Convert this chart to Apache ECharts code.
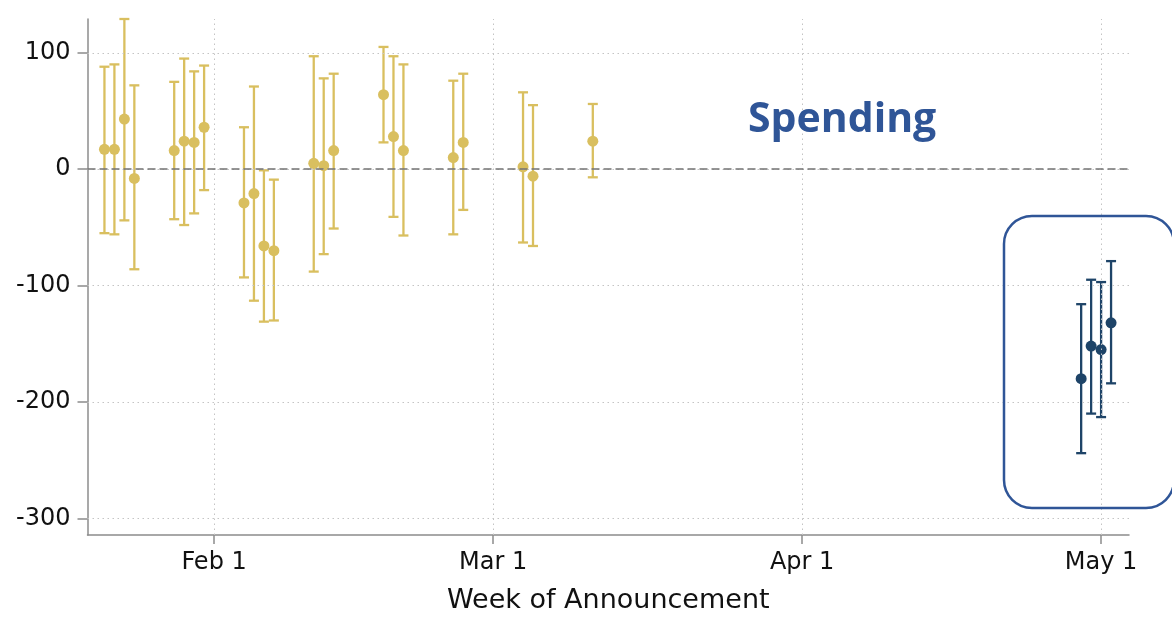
<!DOCTYPE html>
<html>
<head>
<meta charset="utf-8">
<script src="https://cdn.jsdelivr.net/npm/echarts@6/dist/echarts.min.js"></script>
<style>
  html, body { margin: 0; padding: 0; background: #ffffff; }
  #chart { width: 1172px; height: 619px; }
</style>
</head>
<body>
<div id="chart"></div>
<script>
// Weekly announcement effects on spending, with confidence intervals.
const earlyDates = ['2021-01-21', '2021-01-22', '2021-01-23', '2021-01-24',
                    '2021-01-28', '2021-01-29', '2021-01-30', '2021-01-31',
                    '2021-02-04', '2021-02-05', '2021-02-06', '2021-02-07',
                    '2021-02-11', '2021-02-12', '2021-02-13',
                    '2021-02-18', '2021-02-19', '2021-02-20',
                    '2021-02-25', '2021-02-26',
                    '2021-03-04', '2021-03-05',
                    '2021-03-11'];
const earlyEstimate = [17, 17, 43, -8, 16, 24, 23, 36, -29, -21, -66, -70, 5, 3, 16, 64, 28, 16, 10, 23, 2, -6, 24];
const earlyUpper    = [88, 90, 129, 72, 75, 95, 84, 89, 36, 71, -1, -9, 97, 78, 82, 105, 97, 90, 76, 82, 66, 55, 56];
const earlyLower    = [-55, -56, -44, -86, -43, -48, -38, -18, -93, -113, -131, -130, -88, -73, -51, 23, -41, -57, -56, -35, -63, -66, -7];

const mayDates    = ['2021-04-29', '2021-04-30', '2021-05-01', '2021-05-02'];
const mayEstimate = [-180, -152, -155, -132];
const mayUpper    = [-116, -95, -97, -79];
const mayLower    = [-244, -210, -213, -184];

const xTickDates  = ['2021-02-01', '2021-03-01', '2021-04-01', '2021-05-01'];
const xTickLabels = ['Feb 1', 'Mar 1', 'Apr 1', 'May 1'];
const yTicks      = [-300, -200, -100, 0, 100];

const xTitle = 'Week of Announcement';
const panelTitle = 'Spending';

// Day of year (Jan 1 = 0) used as the x coordinate.
function dayOf(iso) {
  const d = new Date(iso + 'T00:00:00Z');
  return Math.round((d - Date.UTC(d.getUTCFullYear(), 0, 1)) / 86400000);
}

const xTickDays = xTickDates.map(dayOf);

function points(dates, est) {
  return dates.map((d, i) => [dayOf(d), est[i]]);
}
function intervals(dates, lo, hi) {
  return dates.map((d, i) => [dayOf(d), lo[i], hi[i]]);
}

const YELLOW = '#d9bf5f';
const NAVY = '#1e4468';
const FONT = 'DejaVu Sans';

function errorBar(color) {
  return function (params, api) {
    const x = api.value(0);
    const pLo = api.coord([x, api.value(1)]);
    const pHi = api.coord([x, api.value(2)]);
    const hw = 5;
    const style = { stroke: color, lineWidth: 2.3 };
    return {
      type: 'group',
      children: [
        { type: 'line', shape: { x1: pLo[0], y1: pHi[1], x2: pLo[0], y2: pLo[1] }, style },
        { type: 'line', shape: { x1: pLo[0] - hw, y1: pHi[1], x2: pLo[0] + hw, y2: pHi[1] }, style },
        { type: 'line', shape: { x1: pLo[0] - hw, y1: pLo[1], x2: pLo[0] + hw, y2: pLo[1] }, style }
      ]
    };
  };
}

const chart = echarts.init(document.getElementById('chart'), null, { renderer: 'canvas' });

const gridStyle = { color: '#c4c4c4', type: [1.5, 3.5], width: 1 };

chart.setOption({
  animation: false,
  backgroundColor: '#ffffff',
  grid: { left: 87.5, right: 43, top: 19, bottom: 81.5, containLabel: false },
  xAxis: {
    type: 'value',
    min: 18.3,
    max: 122.8,
    name: xTitle,
    nameLocation: 'middle',
    nameGap: 52,
    nameTextStyle: { fontFamily: FONT, fontSize: 27, color: '#111111', verticalAlign: 'top' },
    axisLine: { show: true, onZero: false, lineStyle: { color: '#8c8c8c', width: 1.5 } },
    axisTick: { show: true, length: 9, customValues: xTickDays, lineStyle: { color: '#8c8c8c', width: 1.5 } },
    axisLabel: {
      customValues: xTickDays,
      margin: 16,
      fontFamily: FONT,
      fontSize: 24,
      color: '#111111',
      formatter: v => xTickLabels[xTickDays.indexOf(Math.round(v))] || ''
    },
    splitLine: { show: false }
  },
  yAxis: {
    type: 'value',
    min: -314.3,
    max: 129,
    axisLine: { show: true, onZero: false, lineStyle: { color: '#8c8c8c', width: 1.5 } },
    axisTick: { show: true, length: 10, customValues: yTicks, lineStyle: { color: '#8c8c8c', width: 1.5 } },
    axisLabel: {
      customValues: yTicks,
      margin: 17,
      fontFamily: FONT,
      fontSize: 24,
      color: '#111111',
      padding: [4, 0, 0, 0]
    },
    splitLine: { show: false }
  },
  graphic: [
    {
      type: 'text',
      left: 748,
      top: 100,
      style: {
        text: panelTitle,
        font: 'bold 41px "Open Sans"',
        fill: '#2f5597'
      },
      z: 10
    },
    {
      type: 'rect',
      shape: { x: 1004, y: 216, width: 170, height: 292, r: 28 },
      style: { fill: 'none', stroke: '#2f5597', lineWidth: 2.5 },
      z: 10
    }
  ],
  series: [
    {
      // reference grid and zero line
      type: 'line',
      data: [],
      z: 1,
      markLine: {
        silent: true,
        symbol: 'none',
        label: { show: false },
        animation: false,
        data: [
          ...xTickDays.map(d => ({ xAxis: d, lineStyle: gridStyle })),
          ...yTicks.map(v => ({ yAxis: v, lineStyle: gridStyle })),
          { yAxis: 0, lineStyle: { color: '#737373', type: [8, 4], width: 1.6 } }
        ]
      }
    },
    {
      type: 'custom',
      renderItem: errorBar(YELLOW),
      data: intervals(earlyDates, earlyLower, earlyUpper),
      encode: { x: 0, y: [1, 2] },
      clip: false,
      z: 2
    },
    {
      type: 'custom',
      renderItem: errorBar(NAVY),
      data: intervals(mayDates, mayLower, mayUpper),
      encode: { x: 0, y: [1, 2] },
      clip: false,
      z: 2
    },
    {
      type: 'scatter',
      data: points(earlyDates, earlyEstimate),
      symbol: 'circle',
      symbolSize: 11,
      itemStyle: { color: YELLOW, opacity: 1 },
      z: 3
    },
    {
      type: 'scatter',
      data: points(mayDates, mayEstimate),
      symbol: 'circle',
      symbolSize: 11,
      itemStyle: { color: NAVY, opacity: 1 },
      z: 3
    }
  ]
});
</script>
</body>
</html>
